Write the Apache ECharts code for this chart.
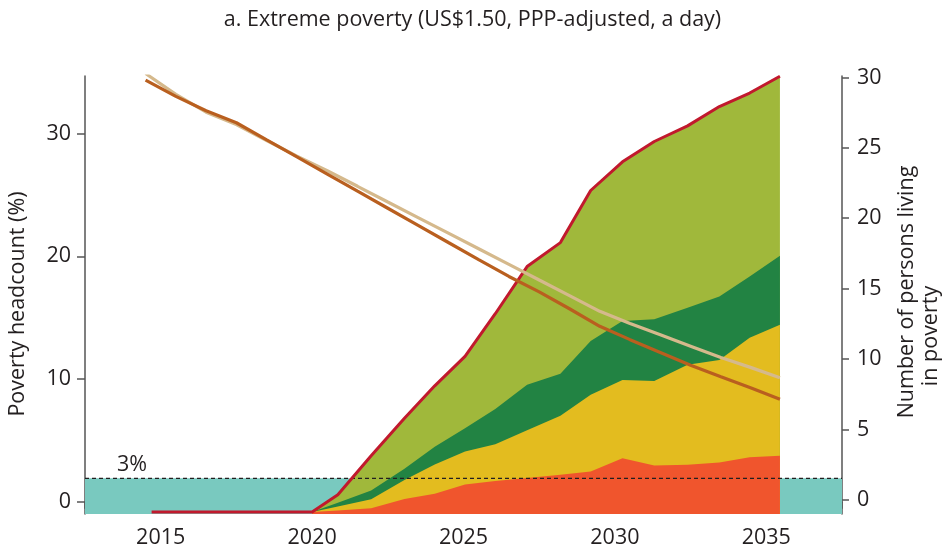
<!DOCTYPE html>
<html>
<head>
<meta charset="utf-8">
<script src="https://cdn.jsdelivr.net/npm/echarts@6/dist/echarts.min.js"></script>
<style>
html,body{margin:0;padding:0;background:#fff;}
#chart{width:945px;height:550px;}
</style>
</head>
<body>
<div id="chart"></div>
<script>
// ---- data ----
const titleText = 'a. Extreme poverty (US$1.50, PPP-adjusted, a day)';
const xLabelValues = [2015, 2020, 2025, 2030, 2035];
const xTickEdges = [2012.5, 2017.5, 2022.5, 2027.5, 2032.5, 2037.5];
const leftTicks = [0, 10, 20, 30];
const rightTicks = [0, 5, 10, 15, 20, 25, 30];

// stacked layers (number of persons living in poverty, right axis)
const stackYears = [2020.0, 2020.85, 2021.95, 2023.05, 2024.05, 2025.05, 2026.05, 2027.1, 2028.2, 2029.2, 2030.25, 2031.3, 2032.4, 2033.45, 2034.45, 2035.45];
const stackBase = -0.85;
const layerOrange = [0, 0.10, 0.26, 0.92, 1.28, 1.95, 2.20, 2.41, 2.63, 2.87, 3.81, 3.30, 3.34, 3.50, 3.88, 3.98];
const layerYellow = [0, 0.28, 0.64, 1.35, 2.08, 2.34, 2.61, 3.38, 4.19, 5.44, 5.56, 6.00, 7.10, 7.29, 8.48, 9.30];
const layerDarkGreen = [0, 0.26, 0.61, 0.80, 1.26, 1.65, 2.50, 3.23, 2.98, 3.83, 4.19, 4.38, 4.05, 4.50, 4.36, 4.90];
const layerLightGreen = [0, 0.57, 2.47, 3.58, 4.33, 5.10, 6.76, 8.40, 9.32, 10.68, 11.30, 12.62, 12.92, 13.49, 13.02, 12.75];
const totalFlatYears = [2014.7];

// poverty headcount lines (%, left axis)
const lineYears = [2014.5, 2015.5, 2016.5, 2017.5, 2018.5, 2019.5, 2020.5, 2021.5, 2022.5, 2023.5, 2024.5, 2025.5, 2026.5, 2027.5, 2028.5, 2029.5, 2030.5, 2031.5, 2032.5, 2033.5, 2034.5, 2035.45];
const headcountTan = [34.9, 33.2, 31.75, 30.75, 29.44, 28.17, 26.98, 25.71, 24.43, 23.16, 21.89, 20.62, 19.35, 18.07, 16.8, 15.52, 14.53, 13.61, 12.68, 11.75, 10.93, 10.10];
const headcountBrown = [34.37, 33.04, 31.87, 30.89, 29.49, 28.10, 26.71, 25.31, 23.92, 22.53, 21.13, 19.74, 18.36, 17.11, 15.73, 14.30, 13.21, 12.17, 11.12, 10.19, 9.27, 8.35];

const threshold = 1.91; // left-axis level of the "3%" line
const thresholdLabel = '3%';
const leftName = 'Poverty headcount (%)';
const rightName1 = 'Number of persons living';
const rightName2 = 'in poverty';

// ---- build ----
const layers = [layerOrange, layerYellow, layerDarkGreen, layerLightGreen];
const cum = [];
let running = stackYears.map(() => stackBase);
layers.forEach(l => {
  running = running.map((v, i) => v + l[i]);
  cum.push(running.slice());
});
const pts = arr => stackYears.map((y, i) => [y, arr[i]]);
const totalLine = totalFlatYears.map(y => [y, stackBase]).concat(pts(cum[3]));

const FONT = '"Open Sans", "Noto Sans", sans-serif';
const FS = 21.5;
const TXT = '#231F20';
const AX = '#555';

function areaSeries(name, data, color) {
  return {
    name, type: 'line', yAxisIndex: 1, xAxisIndex: 0, data,
    showSymbol: false, symbol: 'none', silent: true,
    lineStyle: { width: 0 },
    areaStyle: { color, opacity: 1, origin: 'start' },
    z: 2
  };
}

const option = {
  animation: false,
  backgroundColor: '#fff',
  textStyle: { fontFamily: FONT },
  title: {
    text: titleText, left: 'center', top: 4,
    textStyle: { fontFamily: FONT, fontSize: FS, fontWeight: 'normal', color: TXT }
  },
  grid: { left: 85, right: 103, top: 76, bottom: 36 },
  xAxis: [{
    type: 'value', min: 2012.5, max: 2037.5,
    axisLine: { show: true, lineStyle: { color: AX, width: 1.5 } },
    axisTick: { show: true, length: 7, lineStyle: { color: AX, width: 1.5 }, customValues: xTickEdges },
    axisLabel: { customValues: xLabelValues, formatter: v => String(v), fontSize: FS, color: TXT, margin: 13, fontFamily: FONT },
    splitLine: { show: false }
  }],
  yAxis: [{
    type: 'value', min: -1, max: 34.7, position: 'left',
    axisLine: { show: true, lineStyle: { color: AX, width: 1.5 } },
    axisTick: { show: true, length: 8, lineStyle: { color: AX, width: 1.5 }, customValues: leftTicks },
    axisLabel: { customValues: leftTicks, fontSize: FS, color: TXT, margin: 14, fontFamily: FONT },
    splitLine: { show: false }
  }, {
    type: 'value', min: -1, max: 30.1, position: 'right',
    axisLine: { show: true, lineStyle: { color: AX, width: 1.5 } },
    axisTick: { show: true, length: 7, lineStyle: { color: AX, width: 1.5 }, customValues: rightTicks },
    axisLabel: { customValues: rightTicks, fontSize: FS, color: TXT, margin: 15, fontFamily: FONT },
    splitLine: { show: false }
  }],
  graphic: [
    { type: 'text', style: { text: leftName, font: FS + 'px ' + FONT, fill: TXT, textAlign: 'center', textVerticalAlign: 'middle' },
      position: [18, 304], rotation: Math.PI / 2 },
    { type: 'text', style: { text: rightName1, font: FS + 'px ' + FONT, fill: TXT, textAlign: 'center', textVerticalAlign: 'middle' },
      position: [907, 292], rotation: Math.PI / 2 },
    { type: 'text', style: { text: rightName2, font: FS + 'px ' + FONT, fill: TXT, textAlign: 'center', textVerticalAlign: 'middle' },
      position: [931, 336], rotation: Math.PI / 2 },
    { type: 'text', style: { text: thresholdLabel, font: FS + 'px ' + FONT, fill: TXT, textAlign: 'center', textVerticalAlign: 'middle' },
      position: [132, 465] }
  ],
  series: [
    {
      name: 'band', type: 'line', yAxisIndex: 0, data: [[2012.5, -1], [2037.5, -1]],
      showSymbol: false, symbol: 'none', lineStyle: { width: 0, opacity: 0 }, silent: true, z: 1,
      markArea: {
        silent: true,
        itemStyle: { color: '#79C9BF', opacity: 1 },
        data: [[{ coord: [2012.5, -1] }, { coord: [2037.5, threshold] }]]
      }
    },
    areaSeries('lightGreen', pts(cum[3]), '#A0B83B'),
    areaSeries('darkGreen', pts(cum[2]), '#228343'),
    areaSeries('yellow', pts(cum[1]), '#E3BC1F'),
    areaSeries('orange', pts(cum[0]), '#F0552D'),
    {
      name: 'threshold', type: 'line', yAxisIndex: 0,
      data: [[2012.5, threshold], [2037.5, threshold]],
      showSymbol: false, symbol: 'none', silent: true, z: 3,
      lineStyle: { color: TXT, width: 1.2, type: [4, 3] }
    },
    {
      name: 'total', type: 'line', yAxisIndex: 1, data: totalLine,
      showSymbol: false, symbol: 'none', silent: true, z: 4,
      lineStyle: { color: '#C1192D', width: 3 }
    },
    {
      name: 'tan', type: 'line', yAxisIndex: 0, data: lineYears.map((y, i) => [y, headcountTan[i]]),
      showSymbol: false, symbol: 'none', silent: true, z: 5,
      lineStyle: { color: '#D5B98C', width: 3.2 }
    },
    {
      name: 'brown', type: 'line', yAxisIndex: 0, data: lineYears.map((y, i) => [y, headcountBrown[i]]),
      showSymbol: false, symbol: 'none', silent: true, z: 6,
      lineStyle: { color: '#B95F1F', width: 3.2 }
    }
  ]
};

const chart = echarts.init(document.getElementById('chart'), null, { renderer: 'canvas' });
chart.setOption(option);
</script>
</body>
</html>
